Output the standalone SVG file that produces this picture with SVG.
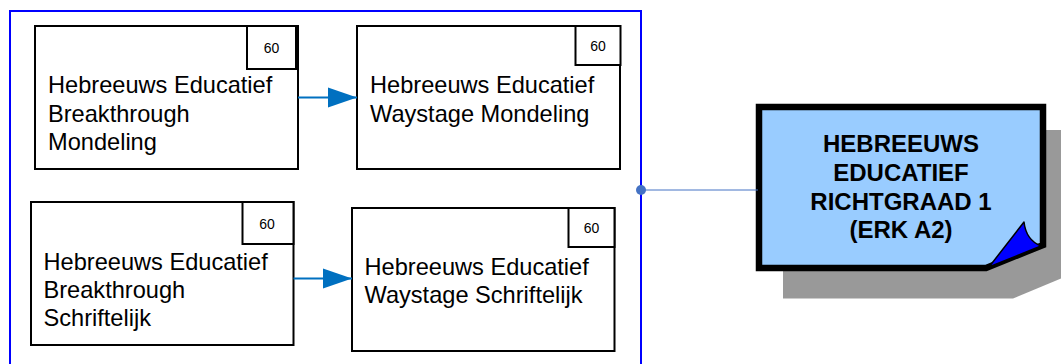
<svg xmlns="http://www.w3.org/2000/svg" width="1061" height="364" viewBox="0 0 1061 364">
<style>
.box{fill:#fff;stroke:#000;stroke-width:2}
.badge{fill:#fff;stroke:#000;stroke-width:2}
.t{font-family:"Liberation Sans",Arial,sans-serif;font-size:23.6px;fill:#000}
.n{font-family:"Liberation Sans",Arial,sans-serif;font-size:14px;fill:#000;text-anchor:middle}
.b{font-family:"Liberation Sans",Arial,sans-serif;font-size:24px;font-weight:bold;fill:#000;text-anchor:middle}
.conn{stroke:#0070c0;stroke-width:2;fill:none}
</style>
<defs>
<marker id="arr" markerUnits="userSpaceOnUse" markerWidth="30" markerHeight="22" refX="29" refY="10" orient="auto" viewBox="0 0 30 20">
<path d="M0,0 L29,10 L0,20 Z" fill="#0070c0"/>
</marker>
</defs>
<g id="container">
<rect x="10" y="11" width="631" height="370" fill="none" stroke="#0000ff" stroke-width="2"/>
</g>
<g id="node1">
<rect class="box" x="35" y="26" width="263" height="143"/>
<rect class="badge" x="247" y="26" width="49" height="43"/>
<text class="n" x="271.5" y="52.5">60</text>
<text class="t" x="48" y="93">Hebreeuws Educatief</text>
<text class="t" x="48" y="121.5">Breakthrough</text>
<text class="t" x="48" y="149.5">Mondeling</text>
</g>
<g id="node2">
<rect class="box" x="357" y="26" width="263" height="143"/>
<rect class="badge" x="575.5" y="26" width="45" height="39"/>
<text class="n" x="598" y="50.5">60</text>
<text class="t" x="370" y="93">Hebreeuws Educatief</text>
<text class="t" x="370" y="121.5">Waystage Mondeling</text>
</g>
<g id="node3">
<rect class="box" x="31" y="202" width="262.5" height="143"/>
<rect class="badge" x="242.5" y="202" width="51" height="42"/>
<text class="n" x="267" y="228.5">60</text>
<text class="t" x="43.5" y="270">Hebreeuws Educatief</text>
<text class="t" x="43.5" y="298">Breakthrough</text>
<text class="t" x="43.5" y="326">Schriftelijk</text>
</g>
<g id="node4">
<rect class="box" x="352" y="208" width="262.5" height="143"/>
<rect class="badge" x="568.5" y="208" width="46" height="39"/>
<text class="n" x="591.5" y="232.5">60</text>
<text class="t" x="364.5" y="274.5">Hebreeuws Educatief</text>
<text class="t" x="364.5" y="303">Waystage Schriftelijk</text>
</g>
<g id="note">
<path d="M783,130 H1073 V273.5 L1013,298.5 H783 Z" fill="#999999"/>
<path d="M759,107 H1043 V245 L986,268 H759 Z" fill="#99ccff" stroke="#000" stroke-width="6.5" stroke-linejoin="miter"/>
<path d="M989,267 L1024,222 Q1026,240 1041,246 Z" fill="#0000ff" stroke="#000" stroke-width="1.5" stroke-linejoin="round"/>
<text class="b" x="901" y="152">HEBREEUWS</text>
<text class="b" x="901" y="181">EDUCATIEF</text>
<text class="b" x="901" y="209.5">RICHTGRAAD 1</text>
<text class="b" x="901" y="238">(ERK A2)</text>
</g>
<g id="connectors">
<line class="conn" x1="298" y1="97.5" x2="357" y2="97.5" marker-end="url(#arr)"/>
<line class="conn" x1="293.5" y1="278.5" x2="352" y2="278.5" marker-end="url(#arr)"/>
<line x1="641" y1="190" x2="758" y2="190" stroke="#4472c4" stroke-width="1"/>
<circle cx="641" cy="190" r="5" fill="#4472c4"/>
</g>
</svg>
